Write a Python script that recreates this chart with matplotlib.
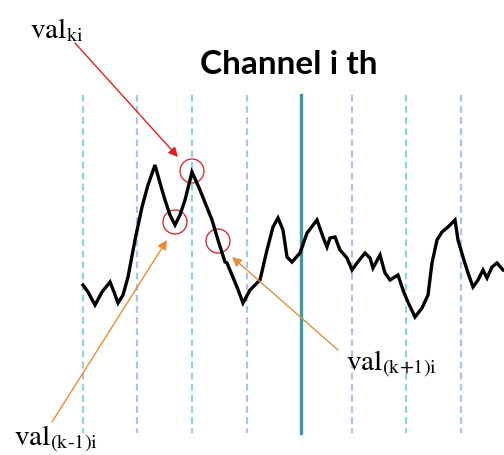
import numpy as np
import matplotlib.pyplot as plt
from matplotlib.patches import Circle

plt.rcParams['mathtext.fontset'] = 'stix'

# signal trace (x, y in picture units, y grows downward)
sig_x = [83, 88, 95, 102, 110, 114, 118, 123, 128, 135, 142, 148, 155, 160, 165, 170,
         175, 180, 185, 192, 200, 206, 212, 218, 225, 227, 232, 237, 243, 250, 260,
         267, 273, 278, 283, 287, 292, 300, 307, 317, 323, 327, 330, 335, 340, 347,
         352, 357, 365, 370, 373, 380, 385, 390, 398, 403, 407, 415, 422, 428, 432,
         437, 442, 448, 455, 458, 463, 468, 473, 478, 483, 487, 492, 497, 503]
sig_y = [285, 292, 305, 292, 282, 292, 303, 295, 277, 240, 207, 185, 165, 183, 200, 215,
         225, 215, 200, 172, 190, 205, 220, 240, 262, 263, 275, 287, 303, 290, 280,
         250, 227, 218, 230, 257, 262, 253, 233, 220, 237, 247, 238, 237, 250, 258,
         270, 263, 253, 258, 268, 255, 273, 280, 275, 290, 300, 317, 308, 295, 263,
         240, 232, 227, 220, 240, 257, 273, 287, 280, 270, 278, 267, 263, 270]

# vertical grid positions
grid_x = [83, 137, 192, 247, 301, 352, 406, 461]
solid_x = 301

# marked samples
marks = [(192, 171), (175, 222), (218, 241)]

fig = plt.figure(figsize=(5.04, 4.55), dpi=100)
ax = fig.add_axes([0, 0, 1, 1])
ax.set_xlim(0, 504)
ax.set_ylim(455, 0)
ax.axis('off')

for i, gx in enumerate(grid_x):
    if gx == solid_x:
        ax.plot([gx, gx], [95, 433], color='#3d9a9e', lw=2.4)
    else:
        col = '#8fd3e3' if i % 2 == 0 else '#a9c4e8'
        ax.plot([gx, gx], [95, 433], color=col, lw=1.6, linestyle=(0, (3, 2)))

ax.plot(sig_x, sig_y, color='black', lw=2.4, solid_joinstyle='miter')

for cx, cy in marks:
    ax.add_patch(Circle((cx, cy), 12, fill=False, edgecolor='#d0303a', lw=1))

ax.annotate('', xy=(178, 157), xytext=(75, 43),
            arrowprops=dict(arrowstyle='-|>', color='#e02020', lw=1,
                            mutation_scale=14, shrinkA=0, shrinkB=0))
ax.annotate('', xy=(167, 240), xytext=(52, 422),
            arrowprops=dict(arrowstyle='-|>', color='#f08a30', lw=1,
                            mutation_scale=14, shrinkA=0, shrinkB=0))
ax.annotate('', xy=(232, 257), xytext=(338, 350),
            arrowprops=dict(arrowstyle='-|>', color='#e09040', lw=1,
                            mutation_scale=14, shrinkA=0, shrinkB=0))

ax.text(30, 38, r'$\mathrm{val}_{\mathrm{ki}}$', fontsize=21, ha='left', va='baseline')
ax.text(346, 371, r'$\mathrm{val}_{\mathrm{(k\text{+}1)i}}$', fontsize=21, ha='left', va='baseline')
ax.text(14, 446, r'$\mathrm{val}_{\mathrm{(k\text{-}1)i}}$', fontsize=21, ha='left', va='baseline')

ax.text(289, 64, 'Channel i th', fontsize=24, fontweight='bold', family='Lato',
        ha='center', va='center')

fig.savefig('out.png', dpi=100)
